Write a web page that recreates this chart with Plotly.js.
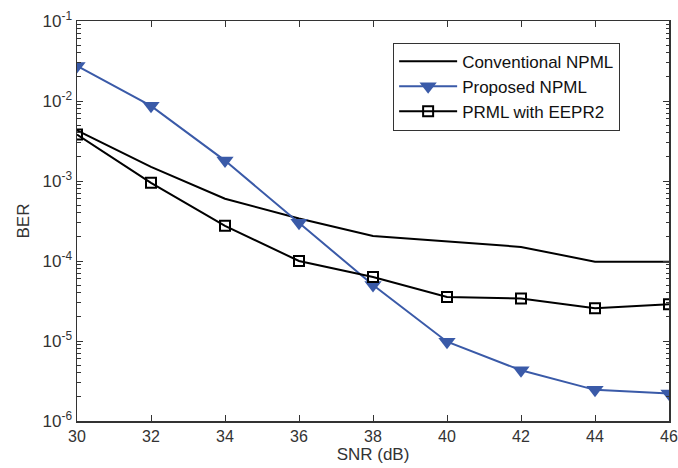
<!DOCTYPE html>
<html>
<head>
<meta charset="utf-8">
<script src="https://cdn.plot.ly/plotly-3.0.1.min.js"></script>
<style>html,body{margin:0;padding:0;background:#fff;}#chart{width:678px;height:468px;}</style>
</head>
<body>
<div id="chart"></div>
<script>
const snr = [30, 32, 34, 36, 38, 40, 42, 44, 46];
const conventionalNPML = [4.3e-3, 1.5e-3, 6.0e-4, 3.4e-4, 2.05e-4, 1.74e-4, 1.5e-4, 9.8e-5, 9.8e-5];
const proposedNPML = [2.74e-2, 8.7e-3, 1.8e-3, 3.0e-4, 5.0e-5, 9.8e-6, 4.3e-6, 2.45e-6, 2.2e-6];
const prmlEEPR2 = [3.8e-3, 9.5e-4, 2.75e-4, 1.0e-4, 6.3e-5, 3.55e-5, 3.4e-5, 2.56e-5, 2.88e-5];
const yTickVals = [1e-6, 1e-5, 1e-4, 1e-3, 1e-2, 1e-1];
const yTickText = ['10<sup>-6</sup>', '10<sup>-5</sup>', '10<sup>-4</sup>', '10<sup>-3</sup>', '10<sup>-2</sup>', '10<sup>-1</sup>'];
const xTicks = [30, 32, 34, 36, 38, 40, 42, 44, 46];

const minorVals = [];
for (let e = -6; e < -1; e++) for (let d = 2; d <= 9; d++) minorVals.push(d * Math.pow(10, e));

const blue = '#3a5aa8';
const traces = [
  {x: snr, y: conventionalNPML, name: 'Conventional NPML', mode: 'lines',
   line: {color: '#000', width: 2}},
  {x: snr, y: proposedNPML, name: 'Proposed NPML', mode: 'lines+markers',
   line: {color: blue, width: 2},
   marker: {symbol: 'triangle-down', size: 15, color: blue}},
  {x: snr, y: prmlEEPR2, name: 'PRML with EEPR2', mode: 'lines+markers',
   line: {color: '#000', width: 2},
   marker: {symbol: 'square-open', size: 10, color: '#000', line: {width: 2, color: '#000'}}}
];

const ff = 'Liberation Sans, Arial, sans-serif';
const xTickFont = {family: ff, size: 16, color: '#333'};
const yTickFont = {family: ff, size: 17, color: '#333'};
const titleFont = {family: ff, size: 17, color: '#333'};
const layout = {
  width: 678, height: 468,
  margin: {l: 77, r: 9, t: 21, b: 47},
  paper_bgcolor: '#fff', plot_bgcolor: '#fff',
  font: yTickFont,
  showlegend: true,
  legend: {x: 0.534, y: 0.946, xanchor: 'left', yanchor: 'top',
    bgcolor: '#fff', bordercolor: '#333', borderwidth: 1,
    font: {family: ff, size: 17, color: '#111'},
    itemwidth: 58, tracegroupgap: 0},
  xaxis: {
    range: [30, 46], tickmode: 'array', tickvals: xTicks, ticktext: xTicks.map(String),
    ticks: 'inside', ticklen: 6, tickcolor: '#333', showgrid: false, zeroline: false,
    showline: true, linecolor: '#333', linewidth: 1.5, mirror: 'allticks',
    title: {text: 'SNR (dB)', font: titleFont, standoff: 4},
    tickfont: xTickFont
  },
  yaxis: {
    type: 'log', range: [-6, -1], tickmode: 'array', tickvals: yTickVals, ticktext: yTickText,
    ticks: 'inside', ticklen: 6, tickcolor: '#333', showgrid: false, zeroline: false,
    showline: true, linecolor: '#333', linewidth: 1.5, mirror: 'allticks',
    minor: {tickmode: 'array', tickvals: minorVals, ticks: 'inside', ticklen: 3.5, tickcolor: '#333', tickwidth: 1, showgrid: false},
    title: {text: 'BER', font: titleFont, standoff: 8},
    tickfont: yTickFont
  }
};
Plotly.newPlot('chart', traces, layout, {displayModeBar: false, staticPlot: true});
</script>
</body>
</html>
